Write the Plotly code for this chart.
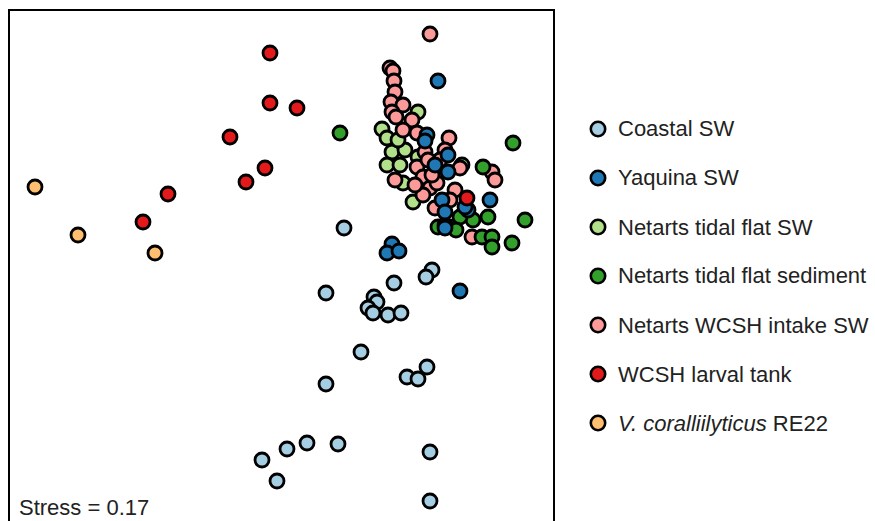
import plotly.graph_objects as go

# NMDS ordination coordinates (arbitrary NMDS units)
coastal_x = [0.64, 0.46, 0.94, 0.97, 0.88, 0.93, 1.08, 1.21, 1.14, 1.52, 1.46, 0.81, 0.46, 1.27, 1.38, 1.47,
             -0.18, 0.07, 0.27, 0.58, -0.03, 1.50, 1.50]
coastal_y = [0.42, -0.23, -0.27, -0.32, -0.38, -0.43, -0.45, -0.43, -0.13, 0.00, -0.07, -0.82, -1.14, -1.07, -1.09, -0.97,
             -1.90, -1.79, -1.73, -1.74, -2.11, -1.82, -2.31]

netsw_x = [1.38, 1.02, 1.07, 1.12, 1.25, 1.07, 1.20, 1.23, 1.33, 1.38, 1.18, 1.82]
netsw_y = [1.58, 1.41, 1.32, 1.18, 1.20, 1.05, 1.05, 0.87, 0.68, 1.13, 1.30, 1.05]

wcsh_x = [1.50, 1.10, 1.13, 1.14, 1.15, 1.11, 1.23, 1.12, 1.16, 1.32, 1.23, 1.37, 1.69, 1.45, 1.37, 1.43,
          1.50, 1.43, 1.57, 1.15, 1.65, 2.12, 2.15, 1.92, 1.55, 1.75, 1.80, 1.60, 1.52, 1.70, 1.35, 1.48]
wcsh_y = [2.36, 2.02, 1.99, 1.89, 1.78, 1.68, 1.65, 1.58, 1.53, 1.50, 1.40, 1.37, 1.32, 1.18, 1.03, 0.93,
          0.82, 0.75, 0.87, 0.90, 1.20, 0.98, 0.90, 0.33, 0.62, 0.80, 1.02, 1.10, 0.95, 0.70, 0.85, 1.10]

netsed_x = [0.60, 2.33, 2.03, 2.45, 2.08, 2.02, 2.12, 2.12, 2.32, 1.58, 1.73, 1.93, 1.80, 1.76, 1.65]
netsed_y = [1.37, 1.27, 1.03, 0.50, 0.53, 0.33, 0.33, 0.23, 0.27, 0.43, 0.43, 0.50, 0.53, 0.40, 0.45]

yaq_x = [1.58, 1.12, 1.07, 1.19, 1.80, 1.47, 1.45, 1.68, 1.55, 1.68, 1.62, 1.65, 1.65, 1.88, 1.85, 2.10]
yaq_y = [1.89, 0.26, 0.17, 0.19, -0.21, 1.35, 1.29, 1.15, 1.05, 0.98, 0.70, 0.58, 0.42, 0.60, 0.63, 0.70]

larval_x = [-0.10, -0.10, 0.17, -0.50, -0.15, -0.34, -1.12, -1.37, 1.87]
larval_y = [2.17, 1.67, 1.62, 1.33, 1.02, 0.88, 0.76, 0.48, 0.72]

re22_x = [-2.45, -2.02, -1.25]
re22_y = [0.83, 0.35, 0.17]

stress_value = 0.17

groups = [
    ("Coastal SW", "#A6CEE3", coastal_x, coastal_y),
    ("Yaquina SW", "#1F78B4", yaq_x, yaq_y),
    ("Netarts tidal flat SW", "#B2DF8A", netsw_x, netsw_y),
    ("Netarts tidal flat sediment", "#33A02C", netsed_x, netsed_y),
    ("Netarts WCSH intake SW", "#FB9A99", wcsh_x, wcsh_y),
    ("WCSH larval tank", "#E31A1C", larval_x, larval_y),
    ("<i>V. coralliilyticus</i> RE22", "#FDBF6F", re22_x, re22_y),
]
draw_order = [0, 2, 4, 3, 1, 5, 6]

fig = go.Figure()
for i in draw_order:
    name, color, xs, ys = groups[i]
    fig.add_trace(go.Scatter(
        x=xs, y=ys, mode="markers", name=name, showlegend=False,
        marker=dict(size=14, color=color, line=dict(color="black", width=2.8)),
        cliponaxis=False,
    ))

W, H = 875, 521
ml, mt, mr, mb = 10, 11, 322, 0
pw, ph = W - ml - mr, H - mt - mb

def px2paper_x(px):
    return (px - ml) / pw

def px2paper_y(py):
    return (H - mb - py) / ph

font = "Liberation Sans, Arial, sans-serif"
shapes = []
annotations = []
leg_y0, leg_dy = 129, 49
for k, (name, color, _, _) in enumerate(groups):
    yy = leg_y0 + k * leg_dy
    shapes.append(dict(
        type="circle", xref="paper", yref="paper", xsizemode="pixel", ysizemode="pixel",
        xanchor=px2paper_x(598), yanchor=px2paper_y(yy), x0=-7.2, x1=7.2, y0=-7.2, y1=7.2,
        fillcolor=color, line=dict(color="black", width=2.6),
    ))
    annotations.append(dict(
        xref="paper", yref="paper", x=px2paper_x(616), y=px2paper_y(yy), xanchor="left", yanchor="middle",
        text=name, showarrow=False, font=dict(family=font, size=22, color="#222"),
    ))

annotations.append(dict(
    xref="paper", yref="paper", x=px2paper_x(17), y=px2paper_y(507), xanchor="left", yanchor="middle",
    text=f"Stress = {stress_value}", showarrow=False, font=dict(family=font, size=22, color="#222"),
))

fig.update_layout(
    width=W, height=H, margin=dict(l=ml, r=mr, t=mt, b=mb),
    plot_bgcolor="white", paper_bgcolor="white",
    xaxis=dict(range=[-2.70, 2.73], showgrid=False, zeroline=False, showticklabels=False, ticks="",
               showline=True, linecolor="black", linewidth=2, side="top", mirror=False),
    yaxis=dict(range=[-2.51, 2.59], showgrid=False, zeroline=False, showticklabels=False, ticks="",
               showline=True, linecolor="black", linewidth=2, mirror=True),
    shapes=shapes, annotations=annotations, showlegend=False,
)

fig.write_html("out.html")
